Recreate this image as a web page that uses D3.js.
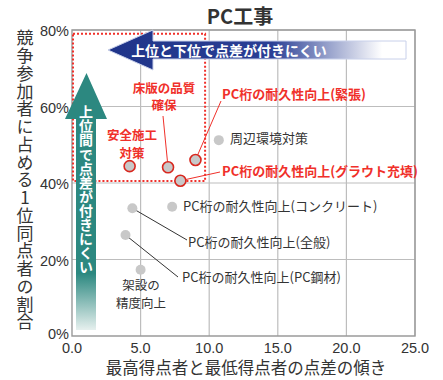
<!DOCTYPE html>
<html>
<head>
<meta charset="utf-8">
<script src="https://cdn.jsdelivr.net/npm/d3@7"></script>
<style>
  body { margin: 0; background: #fff; }
  svg { font-family: "Noto Sans CJK JP", "Noto Sans", sans-serif; }
  .vert { writing-mode: vertical-rl; text-orientation: upright; }
</style>
</head>
<body>
<script>
// Items and values
const items = [
  "安全施工対策", "床版の品質確保", "PC桁の耐久性向上(緊張)", "PC桁の耐久性向上(グラウト充填)",
  "周辺環境対策", "PC桁の耐久性向上(コンクリート)", "PC桁の耐久性向上(全般)",
  "PC桁の耐久性向上(PC鋼材)", "架設の精度向上"
];
const slope = [4.2, 7.0, 9.0, 7.9, 10.7, 7.3, 4.4, 3.9, 5.0];
const topShare = [44.4, 44.1, 46.0, 40.6, 51.2, 33.8, 33.4, 26.4, 17.3];
const highlighted = [true, true, true, true, false, false, false, false, false];

const xTicks = [0, 5, 10, 15, 20, 25];
const yTicks = [0, 20, 40, 60, 80];
const title = "PC工事";
const xTitle = "最高得点者と最低得点者の点差の傾き";
const yTitle = "競争参加者に占める1位同点者の割合";
const hText = "上位と下位で点差が付きにくい";
const vText = "上位間で点差が付きにくい";

// Label layout: text lines, line centres, and optional leader end (pixels)
const labelLayout = [
  { lines: ["安全施工", "対策"], x: 132, ys: [137, 154.5], anchor: "middle" },
  { lines: ["床版の品質", "確保"], x: 164, ys: [89.5, 107], anchor: "middle", lead: [163, 116] },
  { lines: ["PC桁の耐久性向上(緊張)"], x: 222, ys: [95], anchor: "start", lead: [221, 101] },
  { lines: ["PC桁の耐久性向上(グラウト充填)"], x: 222, ys: [172], anchor: "start", lead: [220, 172] },
  { lines: ["周辺環境対策"], x: 230, ys: [139], anchor: "start" },
  { lines: ["PC桁の耐久性向上(コンクリート)"], x: 183, ys: [207], anchor: "start" },
  { lines: ["PC桁の耐久性向上(全般)"], x: 188, ys: [243], anchor: "start", lead: [187, 240] },
  { lines: ["PC桁の耐久性向上(PC鋼材)"], x: 182, ys: [278], anchor: "start", lead: [178, 277] },
  { lines: ["架設の", "精度向上"], x: 141, ys: [287, 304.5], anchor: "middle" }
];

const W = 443, H = 380;
const red = "#f0302a";
const textCol = "#333";

const x = d3.scaleLinear().domain([0, 25]).range([72, 415]);
const y = d3.scaleLinear().domain([0, 80]).range([336, 30]);

const svg = d3.select("body").append("svg").attr("width", W).attr("height", H);
const defs = svg.append("defs");

// Gradients for the two arrows
const gh = defs.append("linearGradient").attr("id", "gh")
  .attr("gradientUnits", "userSpaceOnUse").attr("x1", 108).attr("x2", 406).attr("y1", 0).attr("y2", 0);
gh.append("stop").attr("offset", 0).attr("stop-color", "#1f3489");
gh.append("stop").attr("offset", 0.55).attr("stop-color", "#2a3f95");
gh.append("stop").attr("offset", 0.92).attr("stop-color", "#ffffff");
const gv = defs.append("linearGradient").attr("id", "gv")
  .attr("gradientUnits", "userSpaceOnUse").attr("x1", 0).attr("x2", 0).attr("y1", 73).attr("y2", 330);
gv.append("stop").attr("offset", 0).attr("stop-color", "#2c8880");
gv.append("stop").attr("offset", 0.78).attr("stop-color", "#2c8880");
gv.append("stop").attr("offset", 1).attr("stop-color", "#e6f0ee");

// Grid
svg.append("g").selectAll("line").data(xTicks.slice(1)).join("line")
  .attr("x1", d => x(d)).attr("x2", d => x(d)).attr("y1", y(80)).attr("y2", y(0))
  .attr("stroke", "#bdbdbd").attr("stroke-width", 1.2);
svg.append("g").selectAll("line").data(yTicks.slice(1)).join("line")
  .attr("x1", x(0)).attr("x2", x(25)).attr("y1", d => y(d)).attr("y2", d => y(d))
  .attr("stroke", "#bdbdbd").attr("stroke-width", 1.2);
svg.append("path")
  .attr("d", `M${x(0)},${y(0)}V${y(80)}H${x(25)}V${y(0)}Z`)
  .attr("fill", "none").attr("stroke", "#9a9a9a").attr("stroke-width", 1.4);

// Red dotted frame
svg.append("rect")
  .attr("x", x(0) + 1).attr("y", y(79))
  .attr("width", x(9.7) - x(0) - 1).attr("height", y(40.5) - y(79))
  .attr("fill", "none").attr("stroke", red).attr("stroke-width", 2)
  .attr("stroke-dasharray", "2,2");

// Horizontal arrow
svg.append("path")
  .attr("d", "M108,50 L153,30 L153,41 L406,41 L406,59 L153,59 L153,70 Z")
  .attr("fill", "url(#gh)").attr("stroke", "#c8d0ea").attr("stroke-width", 1);
svg.append("text").attr("x", 229).attr("y", 55.5)
  .attr("text-anchor", "middle").attr("fill", "#fff").attr("font-weight", "bold")
  .attr("font-size", 14).text(hText);

// Vertical arrow
svg.append("path")
  .attr("d", "M86.5,73 L107,119 L96,119 L96,330 L76,330 L76,119 L65,119 Z")
  .attr("fill", "url(#gv)");
svg.append("text").attr("class", "vert")
  .attr("x", 86).attr("y", 105)
  .attr("fill", "#fff").attr("font-weight", "bold")
  .attr("font-size", 14).attr("textLength", 169).attr("lengthAdjust", "spacing")
  .text(vText);

// Axis tick labels
svg.append("g").selectAll("text").data(xTicks).join("text")
  .attr("x", d => x(d)).attr("y", 353).attr("text-anchor", "middle")
  .attr("font-size", 14.5).attr("fill", textCol).attr("font-family", "Liberation Sans, Arial, sans-serif")
  .text(d => d3.format(".1f")(d));
svg.append("g").selectAll("text").data(yTicks).join("text")
  .attr("x", 69).attr("y", d => y(d) + (d === 0 ? 3 : 6)).attr("text-anchor", "end")
  .attr("font-size", 14.5).attr("fill", textCol).attr("font-family", "Liberation Sans, Arial, sans-serif")
  .text(d => d + "%");

// Titles
svg.append("text").attr("x", 240).attr("y", 24).attr("text-anchor", "middle")
  .attr("font-size", 20).attr("font-weight", "bold").attr("fill", textCol).text(title);
svg.append("text").attr("x", 246).attr("y", 374).attr("text-anchor", "middle")
  .attr("font-size", 16.5).attr("fill", textCol).text(xTitle);
svg.append("text").attr("class", "vert")
  .attr("x", 25).attr("y", 29.5)
  .attr("font-size", 17).attr("textLength", 301).attr("lengthAdjust", "spacing")
  .attr("fill", textCol).text(yTitle);

// Leader lines
labelLayout.forEach((l, i) => {
  if (!l.lead) return;
  svg.append("line")
    .attr("x1", x(slope[i])).attr("y1", y(topShare[i]))
    .attr("x2", l.lead[0]).attr("y2", l.lead[1])
    .attr("stroke", highlighted[i] ? red : "#333").attr("stroke-width", 1);
});

// Points
svg.append("g").selectAll("circle").data(items).join("circle")
  .attr("cx", (d, i) => x(slope[i])).attr("cy", (d, i) => y(topShare[i]))
  .attr("r", (d, i) => highlighted[i] ? 5.5 : 5)
  .attr("fill", "#c8c8c8")
  .attr("stroke", (d, i) => highlighted[i] ? "#d8281f" : "none")
  .attr("stroke-width", 1.6);

// Point labels, one text per line
labelLayout.forEach((l, i) => {
  const hl = highlighted[i];
  l.lines.forEach((s, k) => {
    svg.append("text")
      .attr("x", l.x).attr("y", l.ys[k]).attr("text-anchor", l.anchor)
      .attr("dominant-baseline", "middle")
      .attr("font-size", l.lines.length > 1 ? 12.5 : 13)
      .attr("font-weight", hl ? "bold" : "normal")
      .attr("fill", hl ? red : textCol)
      .text(s);
  });
});
</script>
</body>
</html>
